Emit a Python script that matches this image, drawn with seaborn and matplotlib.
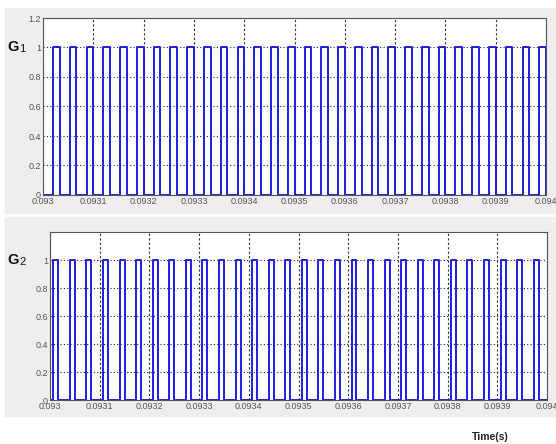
import matplotlib
matplotlib.use("Agg")
import matplotlib.pyplot as plt
from matplotlib.patches import Rectangle
import numpy as np
import pandas as pd
import seaborn as sns

# time axis (s)
t_start = 0.093
t_end = 0.094
x_ticks = [0.093, 0.0931, 0.0932, 0.0933, 0.0934, 0.0935,
           0.0936, 0.0937, 0.0938, 0.0939, 0.094]
x_labels = ["0.093", "0.0931", "0.0932", "0.0933", "0.0934", "0.0935",
            "0.0936", "0.0937", "0.0938", "0.0939", "0.094"]

# rising edges in microseconds after 0.093 s
g1_rise_us = [20.0, 53.3, 86.7, 120.0, 153.3, 186.7, 220.0, 253.3, 286.7, 320.0,
              353.3, 386.7, 420.0, 453.3, 486.7, 520.0, 553.3, 586.7, 620.0, 653.3,
              686.7, 720.0, 753.3, 786.7, 820.0, 853.3, 886.7, 920.0, 953.3, 986.7]
g1_width_us = 13.3

g2_rise_us = [6.7, 40.0, 73.3, 106.7, 140.0, 173.3, 206.7, 240.0, 273.3, 306.7,
              340.0, 373.3, 406.7, 440.0, 473.3, 506.7, 540.0, 573.3, 606.7, 640.0,
              673.3, 706.7, 740.0, 773.3, 806.7, 840.0, 873.3, 906.7, 940.0, 973.3]
g2_width_us = 10.0

g1_yticks = [0, 0.2, 0.4, 0.6, 0.8, 1.0, 1.2]
g1_ylabels = ["0", "0.2", "0.4", "0.6", "0.8", "1", "1.2"]
g2_yticks = [0, 0.2, 0.4, 0.6, 0.8, 1.0]
g2_ylabels = ["0", "0.2", "0.4", "0.6", "0.8", "1"]


def pulse_frame(rises, width):
    t, v = [0.0], [0.0]
    for r in rises:
        f = min(r + width, 1000.0)
        t += [r, r, f, f]
        v += [0, 1, 1, 0]
    t.append(1000.0)
    v.append(0.0)
    return pd.DataFrame({"t": t_start + np.array(t) * 1e-6, "v": v})


def style_axes(ax, yticks, ylabels):
    ax.set_xlim(t_start, t_end)
    ax.set_ylim(0, 1.2)
    ax.set_xticks(x_ticks)
    ax.set_xticklabels(x_labels)
    ax.set_yticks(yticks)
    ax.set_yticklabels(ylabels)
    ax.set_xlabel("")
    ax.set_ylabel("")
    ax.set_facecolor("white")
    ax.grid(True, axis="y", linestyle=(0, (1, 2)), color="#222222", linewidth=0.8)
    ax.grid(True, axis="x", linestyle=(0, (2, 2)), color="#333333", linewidth=0.8)
    ax.tick_params(direction="in", length=3, width=0.6, labelsize=6.5,
                   labelcolor="#555555", color="#333333", pad=1.5)
    for s in ax.spines.values():
        s.set_color("#555555")
        s.set_linewidth(0.8)


sns.set_style("white")
plt.rcParams["font.family"] = ["Liberation Sans", "DejaVu Sans"]

fig = plt.figure(figsize=(5.56, 4.44), dpi=100)
fig.patch.set_facecolor("white")
# grey panels behind each scope window
fig.patches.append(Rectangle((5 / 556, 231 / 444), 551 / 556, 205 / 444,
                             transform=fig.transFigure, color="#eeeeee", zorder=-10))
fig.patches.append(Rectangle((5 / 556, 28 / 444), 551 / 556, 199 / 444,
                             transform=fig.transFigure, color="#eeeeee", zorder=-10))

ax1 = fig.add_axes([43 / 556, 249 / 444, 503 / 556, 177 / 444])
ax2 = fig.add_axes([50 / 556, 44 / 444, 497 / 556, 168 / 444])

sns.lineplot(data=pulse_frame(g1_rise_us, g1_width_us), x="t", y="v", sort=False,
             estimator=None, color="#1f1fe0", linewidth=1.4, ax=ax1)
sns.lineplot(data=pulse_frame(g2_rise_us, g2_width_us), x="t", y="v", sort=False,
             estimator=None, color="#1f1fe0", linewidth=1.4, ax=ax2)

style_axes(ax1, g1_yticks, g1_ylabels)
style_axes(ax2, g2_yticks, g2_ylabels)

fig.text(7 / 556, 1 - 51 / 444, "G", fontsize=10.5, fontweight="bold", color="#111111")
fig.text(19 / 556, 1 - 52 / 444, "1", fontsize=8, color="#111111")
fig.text(7 / 556, 1 - 264 / 444, "G", fontsize=10.5, fontweight="bold", color="#111111")
fig.text(19 / 556, 1 - 265 / 444, "2", fontsize=8, color="#111111")
fig.text(490 / 556, 1 - 440 / 444, "Time(s)", fontsize=7.5, fontweight="bold",
         color="#222222", ha="center")

fig.savefig("out.png", dpi=100)
